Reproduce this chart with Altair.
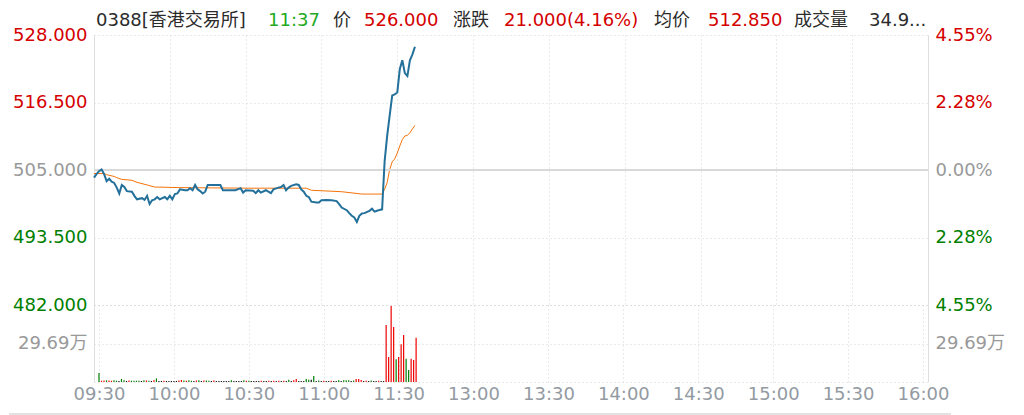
import json
import altair as alt
import pandas as pd

# ---------------- data ----------------
TIME_LABELS = ["09:30", "10:00", "10:30", "11:00", "11:30", "13:00",
               "13:30", "14:00", "14:30", "15:00", "15:30", "16:00"]
TICK_MINUTES = [0, 30, 60, 90, 120, 150, 180, 210, 240, 270, 300, 330]
PREV_CLOSE = 505.0
PRICE_TICKS = [482.0, 493.5, 505.0, 516.5, 528.0]
VOL_TICKS = [0.0, 29.69, 59.38]

price_minutes = [0, 1, 2, 3, 4, 5, 6, 7, 8, 9, 10, 11, 12, 13, 15, 16, 17, 19, 20, 21,
                 22, 23, 24, 25, 26, 28, 29, 30, 31, 32, 33, 34, 36, 37, 38, 39, 40, 41, 42, 43,
                 44, 45, 50, 51, 56, 58, 59, 60, 63, 64, 65, 66, 68, 69, 70, 71, 73, 74, 75, 76,
                 77, 78, 80, 81, 82, 83, 84, 85, 86, 88, 89, 90, 92, 94, 96, 97, 98, 100, 101, 102,
                 103, 104, 105, 106, 107, 109, 110, 111, 112, 113, 114, 115, 116, 117, 118, 119, 120, 121, 122, 123,
                 124, 125, 126, 127]
price_values = [503.7, 504.3, 504.8, 505.1, 504.3, 503.1, 503.5, 503.0, 502.8, 502.0,
                501.0, 502.45, 502.1, 501.4, 501.3, 500.6, 500.0, 500.2, 499.9, 500.6,
                499.2, 499.85, 500.0, 500.4, 500.0, 500.4, 500.0, 500.6, 500.0, 500.9,
                501.0, 501.7, 501.55, 501.55, 501.9, 501.55, 502.45, 501.7, 501.4, 501.0,
                501.3, 502.45, 502.45, 501.55, 501.55, 501.9, 501.15, 501.55, 501.45, 501.05,
                501.55, 501.15, 501.55, 501.3, 501.05, 501.7, 502.0, 502.1, 502.45, 501.55,
                502.0, 502.3, 502.55, 502.45, 501.7, 501.3, 500.6, 500.4, 499.6, 499.45,
                499.45, 499.85, 499.9, 499.85, 499.7, 499.2, 498.6, 498.15, 497.65, 497.2,
                496.9, 496.15, 497.2, 497.6, 497.65, 498.05, 498.4, 497.9, 498.05, 498.2,
                498.3, 506.5, 510.8, 514.3, 517.7, 517.9, 518.2, 522.2, 523.7, 521.5,
                521.0, 523.7, 524.7, 526.0]

avg_minutes = [0, 4, 5, 8, 9, 11, 15, 17, 21, 24, 34, 61, 84, 86, 98, 106, 114,
               115, 116, 117, 118, 119, 120, 121, 122, 123, 124, 125, 126, 127]
avg_values = [504.4, 504.4, 504.2, 503.9, 503.7, 503.4, 503.25, 502.9, 502.45, 502.1,
              502.0, 501.9, 501.9, 501.55, 501.3, 500.9, 500.9,
              501.7, 502.85, 505.1, 506.4, 506.9, 507.9, 509.1, 510.2, 510.8, 510.9,
              511.35, 512.0, 512.6]

# volume per minute (unit: 万), minutes 0..127
vol_values = [7.0, 1.0, 1.2, 1.3, 1.2, 1.0, 1.4, 1.0, 0.8, 2.3,
              1.4, 0.8, 1.2, 1.0, 1.0, 1.0, 1.0, 0.8, 1.3, 1.2,
              1.0, 0.8, 1.3, 2.8, 0.8, 0.8, 1.0, 0.8, 0.8, 0.8,
              0.8, 0.8, 1.2, 1.5, 1.2, 1.0, 1.4, 1.0, 0.8, 1.2,
              1.3, 0.8, 1.2, 1.2, 1.0, 0.8, 1.2, 0.8, 0.8, 0.8,
              0.8, 0.8, 0.8, 1.3, 0.8, 0.8, 0.8, 0.8, 1.3, 1.0,
              1.0, 0.8, 0.8, 0.8, 0.8, 1.0, 0.8, 0.8, 1.0, 0.8,
              1.0, 0.8, 1.0, 0.8, 1.0, 0.8, 1.8, 0.8, 1.3, 2.3,
              0.8, 0.8, 0.8, 2.3, 1.8, 1.8, 4.6, 0.8, 1.2, 0.8,
              1.0, 0.8, 0.8, 1.0, 0.8, 0.8, 1.3, 0.8, 1.3, 1.3,
              1.3, 0.8, 1.2, 2.3, 2.3, 1.5, 0.8, 1.0, 0.8, 1.2,
              0.8, 0.8, 1.0, 0.8, 0.8,
              44.0, 19.3, 58.6, 42.4, 17.5, 19.3, 29.1, 36.2, 18.0, 9.2,
              18.0, 17.0, 34.2]
vol_dirs = ("grrgrrggkg" "gkrggggkgr" "gkrgkkrkkk" "kkrrgrggkr" "gkrggkrkkk"
            "kkkgkkkkgr" "gkkkkrkkrk" "rkrkrkgkrr" "kkkggkgkgk" "rkkrkkgkgg"
            "gkgrrrkrkg" "kkrkk" "rrrrgrrrggrrr")

TITLE_TEXTS = ["0388[香港交易所]", "11:37", "价", "526.000", "涨跌",
               "21.000(4.16%)", "均价", "512.850", "成交量", "34.9..."]

# ---------------- styles / layout ----------------
TITLE_X = [2, 174, 239, 270, 359, 410, 560, 614, 700, 775]
DARK = "#2b2b2b"
RED = "#d40000"
GREEN = "#008000"
TGREEN = "#22aa22"
GRAY = "#999999"
XGRAY = "#939aa2"
GRID = "#d4d4d4"
BORDER = "#dedede"
BLUE = "#23709a"
ORANGE = "#f5730a"
TITLE_COLORS = [DARK, TGREEN, DARK, RED, DARK, RED, DARK, RED, DARK, DARK]
FONT = "DejaVu Sans, Noto Sans CJK SC"
FS = 18
W, H1, H2 = 834, 270, 77

price_df = pd.DataFrame({"m": price_minutes, "p": price_values})
avg_df = pd.DataFrame({"m": avg_minutes, "p": avg_values})
base_df = pd.DataFrame({"p": [PREV_CLOSE]})
vol_df = pd.DataFrame({"m": list(range(len(vol_values))), "v": vol_values,
                       "d": list(vol_dirs)})

label_color = {"condition": [{"test": f"datum.value > {PREV_CLOSE + 0.01}", "value": RED},
                             {"test": f"datum.value < {PREV_CLOSE - 0.01}", "value": GREEN}],
               "value": GRAY}

x_scale = alt.Scale(domain=[0, 330], nice=False, zero=False)
x_top = alt.X("m:Q", scale=x_scale,
              axis=alt.Axis(values=TICK_MINUTES, grid=True, gridColor=GRID, gridDash=[1, 3],
                            labels=False, ticks=False, domain=False, title=None))

p_scale = alt.Scale(domain=[482, 528], nice=False, zero=False)
y_left = alt.Y("p:Q", scale=p_scale,
               axis=alt.Axis(orient="left", values=PRICE_TICKS, format=".3f", grid=True,
                             gridColor=GRID, gridDash=[1, 3], ticks=False, domain=True,
                             domainColor=BORDER, labelColor=label_color, labelFont=FONT,
                             labelFontSize=FS, labelPadding=7, title=None))
y_right = alt.Y("p:Q", scale=p_scale,
                axis=alt.Axis(orient="right", values=PRICE_TICKS, grid=False,
                              labelExpr=f"format(abs(datum.value - {PREV_CLOSE}) / {PREV_CLOSE} * 100, '.2f') + '%'",
                              ticks=False, domain=True, domainColor=BORDER,
                              labelColor=label_color, labelFont=FONT, labelFontSize=FS,
                              labelPadding=7, title=None))

base_rule = alt.Chart(base_df).mark_rule(color="#d9d9d9", strokeWidth=2).encode(y=y_left)
price_line = alt.Chart(price_df).mark_line(color=BLUE, strokeWidth=2).encode(x=x_top, y=y_left)
avg_line = alt.Chart(avg_df).mark_line(color=ORANGE, strokeWidth=1).encode(x=x_top, y=y_right)

titles = []
for t, xp, c in zip(TITLE_TEXTS, TITLE_X, TITLE_COLORS):
    titles.append(
        alt.Chart(pd.DataFrame({"t": [t]})).mark_text(
            align="left", baseline="middle", font=FONT, fontSize=FS, color=c
        ).encode(text="t:N", x=alt.value(xp), y=alt.value(-14))
    )

left_group = alt.layer(base_rule, price_line, *titles)
top = alt.layer(avg_line, left_group).resolve_scale(y="independent").properties(width=W, height=H1)

x_expr = json.dumps(TIME_LABELS, ensure_ascii=False) + "[round(datum.value / 30)]"
x_bot = alt.X("m:Q", scale=x_scale,
              axis=alt.Axis(values=TICK_MINUTES, labelExpr=x_expr, grid=True, gridColor=GRID,
                            gridDash=[1, 3], ticks=False, domain=False, labelColor=XGRAY,
                            labelFont=FONT, labelFontSize=FS, labelPadding=3, labelFlush=False,
                            labelOverlap=False, title=None))
v_scale = alt.Scale(domain=[0, 59.38], nice=False, zero=True)
vol_label = "datum.value > 29 && datum.value < 30 ? '29.69万' : ''"
y_vol_l = alt.Y("v:Q", scale=v_scale,
                axis=alt.Axis(orient="left", values=VOL_TICKS, labelExpr=vol_label, grid=True,
                              gridColor=GRID, gridDash=[1, 3], ticks=False, domain=True,
                              domainColor=BORDER, labelColor=GRAY, labelFont=FONT,
                              labelFontSize=FS, labelPadding=7, title=None))
y_vol_r = alt.Y("v:Q", scale=v_scale,
                axis=alt.Axis(orient="right", values=VOL_TICKS, labelExpr=vol_label, grid=False,
                              ticks=False, domain=True, domainColor=BORDER, labelColor=GRAY,
                              labelFont=FONT, labelFontSize=FS, labelPadding=7, title=None))
vol_color = alt.Color("d:N", scale=alt.Scale(domain=["r", "g", "k"],
                                              range=["#ee0000", "#008000", "#111111"]),
                      legend=None)
bars = alt.Chart(vol_df).mark_bar(size=1.2).encode(x=x_bot, y=y_vol_l, color=vol_color)
bars_r = alt.Chart(vol_df).mark_bar(size=1.2, opacity=0).encode(x=x_bot, y=y_vol_r)
# light separator line along the bottom of the widget
sep = alt.Chart(pd.DataFrame({"s": [0]})).mark_rule(color="#e2e2e2", strokeWidth=2).encode(
    x=alt.value(-85), x2=alt.value(857), y=alt.value(H2 + 32))
bottom = alt.layer(bars, bars_r, sep).resolve_scale(y="independent").properties(width=W, height=H2)

chart = alt.vconcat(top, bottom, spacing=0, bounds="flush").configure_view(
    stroke=None
).properties(padding={"left": 0, "top": 4, "right": 0, "bottom": 0}, background="white")

chart.save("out.html", embed_options={"renderer": "svg", "actions": False})
